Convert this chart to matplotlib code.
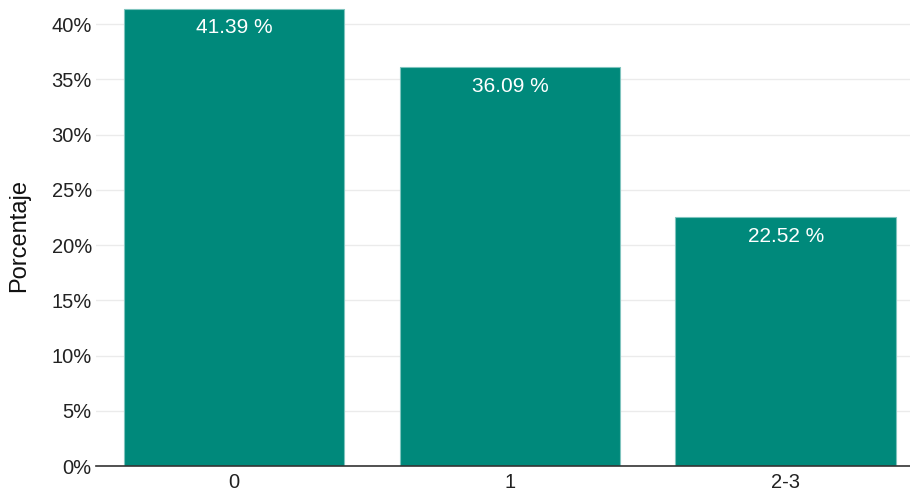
import matplotlib
matplotlib.use("Agg")
import matplotlib.pyplot as plt
from matplotlib.ticker import FuncFormatter

plt.rcParams['font.family'] = ['Liberation Sans', 'DejaVu Sans']

categories = ["0", "1", "2-3"]
values = [41.39, 36.09, 22.52]
labels = ["41.39 %", "36.09 %", "22.52 %"]
yticks = [0, 5, 10, 15, 20, 25, 30, 35, 40]

fig = plt.figure(figsize=(9.10, 4.95), dpi=100)
ax = fig.add_axes([96/910, 29/495, (910-96)/910, (466-5)/495])

x = list(range(len(categories)))
bars = ax.bar(x, values, width=0.8, color="#00897b", edgecolor="#7fc4be", linewidth=0.8, zorder=3)
for b, lab in zip(bars, labels):
    ax.annotate(lab, (b.get_x() + b.get_width()/2, b.get_height()), xytext=(0, -7),
                textcoords="offset points", ha="center", va="top", color="white",
                fontsize=15, zorder=4)

ax.set_xlim(-0.5, 2.45)
ax.set_ylim(0, 41.72)
ax.set_yticks(yticks)
ax.yaxis.set_major_formatter(FuncFormatter(lambda v, p: f"{int(v)}%"))
ax.set_xticks(x)
ax.set_xticklabels(categories)
ax.tick_params(axis="both", length=0, labelsize=14.5, colors="#222222", pad=5)
ax.tick_params(axis="y", pad=3)
ax.grid(axis="y", color="#ebebeb", linewidth=1, zorder=0)
for s in ["top", "right", "left"]:
    ax.spines[s].set_visible(False)
ax.spines["bottom"].set_color("#333333")
ax.spines["bottom"].set_linewidth(1.2)
ax.spines["bottom"].set_zorder(5)
ax.set_ylabel("Porcentaje", fontsize=17, color="#111111")
ax.yaxis.set_label_coords(-0.081, 0.5)

fig.savefig("out.png", dpi=100)
